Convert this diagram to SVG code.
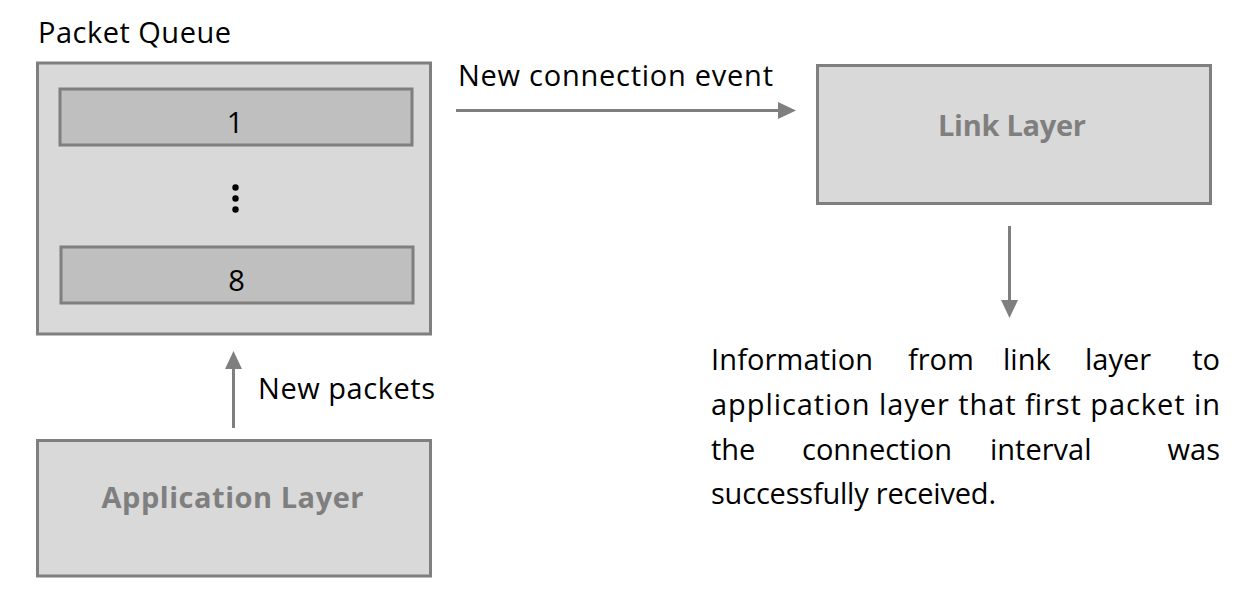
<svg xmlns="http://www.w3.org/2000/svg" width="1243" height="602" viewBox="0 0 1243 602">
<style>
.box{fill:#d9d9d9;stroke:#7f7f7f;stroke-width:3}
.slot{fill:#bfbfbf;stroke:#7f7f7f;stroke-width:3}
.t{font-family:"Open Sans","Noto Sans","Liberation Sans",sans-serif;font-size:29px;fill:#000}
.b{font-family:"Open Sans","Noto Sans","Liberation Sans",sans-serif;font-size:29px;font-weight:bold;fill:#7f7f7f}
.c{stroke:#7f7f7f;stroke-width:3;fill:none}
</style>
<defs>
<marker id="ah" markerUnits="userSpaceOnUse" markerWidth="18" markerHeight="18" refX="0" refY="9" orient="auto" viewBox="0 0 18 18">
<path d="M0,0.5 L18,9 L0,17.5 Z" fill="#7f7f7f"/>
</marker>
</defs>
<g id="packet-queue">
<text class="t" x="38" y="43" textLength="193">Packet Queue</text>
<rect class="box" x="37.5" y="63" width="393" height="271"/>
<rect class="slot" x="60" y="89" width="352" height="56"/>
<text class="t" x="235" y="133" text-anchor="middle">1</text>
<circle cx="235.5" cy="187.5" r="3.2" fill="#000"/>
<circle cx="235.5" cy="198.5" r="3.2" fill="#000"/>
<circle cx="235.5" cy="209.5" r="3.2" fill="#000"/>
<rect class="slot" x="61" y="247" width="352" height="56"/>
<text class="t" x="236.5" y="291" text-anchor="middle">8</text>
</g>
<g id="link-layer">
<rect class="box" x="817.5" y="65.5" width="393" height="138"/>
<text class="b" x="1012" y="136" text-anchor="middle" textLength="148">Link Layer</text>
</g>
<g id="application-layer">
<rect class="box" x="37.5" y="440.5" width="393" height="135.5"/>
<text class="b" x="232.5" y="508" text-anchor="middle" textLength="262">Application Layer</text>
</g>
<g id="connectors">
<line class="c" x1="456" y1="110.5" x2="778" y2="110.5" marker-end="url(#ah)"/>
<line class="c" x1="1009.5" y1="226" x2="1009.5" y2="300" marker-end="url(#ah)"/>
<line class="c" x1="233.5" y1="428" x2="233.5" y2="369" marker-end="url(#ah)"/>
<text class="t" x="458" y="86" textLength="315">New connection event</text>
<text class="t" x="258" y="399" textLength="177">New packets</text>
</g>
<g id="info-text">
<text class="t" y="369.5"><tspan x="711" textLength="162">Information</tspan><tspan x="908">from</tspan><tspan x="1003">link</tspan><tspan x="1085">layer</tspan></text>
<text class="t" x="1220" y="369.5" text-anchor="end">to</text>
<text class="t" x="711" y="414.5" textLength="509">application layer that first packet in</text>
<text class="t" y="459.5"><tspan x="711">the</tspan><tspan x="802">connection</tspan><tspan x="990">interval</tspan></text>
<text class="t" x="1220" y="459.5" text-anchor="end">was</text>
<text class="t" x="711" y="503.5" textLength="285">successfully received.</text>
</g>
</svg>
